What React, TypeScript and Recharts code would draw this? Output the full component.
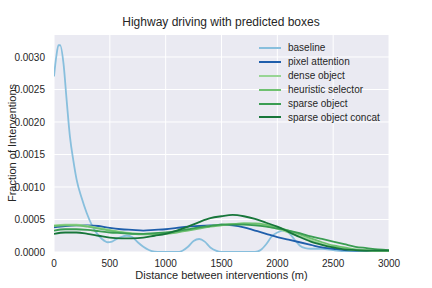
import React from "react";
import { LineChart, Line, XAxis, YAxis, CartesianGrid } from "recharts";

const xTicks = [0, 500, 1000, 1500, 2000, 2500, 3000];
const yTicks = [0, 0.0005, 0.001, 0.0015, 0.002, 0.0025, 0.003];

const seriesNames = [
  "baseline",
  "pixel attention",
  "dense object",
  "heuristic selector",
  "sparse object",
  "sparse object concat",
];
const seriesColors = ["#88bfdd", "#1f5eab", "#98d594", "#6fc170", "#3a9d52", "#17763a"];

const baselineX = [0, 20, 40, 55, 85, 113, 143, 173, 203, 248, 293, 337, 382, 430, 480, 520, 560, 600, 650, 700, 750, 800, 850, 900, 950, 1000, 1100, 1150, 1200, 1250, 1300, 1350, 1400, 1450, 1500, 1800, 1850, 1900, 1950, 2000, 2050, 2100, 2150, 2200, 2250, 2300, 2400, 2500, 2600, 2700, 3000];
const baselineY = [0.0027, 0.003, 0.00318, 0.00318, 0.0029, 0.00234, 0.00177, 0.00141, 0.00111, 0.00083, 0.0006, 0.00042, 0.00029, 0.0002, 0.00015, 0.00016, 0.0002, 0.00023, 0.00025, 0.00023, 0.00015, 0.00008, 0.00003, 0.000005, 0, 0, 0, 0.00002, 0.00008, 0.00017, 0.0002, 0.00016, 0.00007, 0.00002, 0, 0, 0.00003, 0.00012, 0.00024, 0.0003, 0.00033, 0.0003, 0.0002, 0.0001, 0.00006, 0.00005, 0.00005, 0.00003, 0.00001, 0, 0];

const gridX = [0, 100, 200, 300, 400, 500, 600, 700, 800, 900, 1000, 1100, 1200, 1300, 1400, 1500, 1600, 1700, 1800, 1900, 2000, 2100, 2200, 2300, 2400, 2500, 2600, 2700, 2800, 2900, 3000];
const pixelAttention = [0.00038, 0.0004, 0.00041, 0.00041, 0.0004, 0.00037, 0.00035, 0.00034, 0.00033, 0.00034, 0.00035, 0.00037, 0.00039, 0.0004, 0.00041, 0.00042, 0.00041, 0.00038, 0.00033, 0.00028, 0.00023, 0.00019, 0.00015, 0.00011, 0.00007, 0.00005, 0.00003, 0.00002, 0.000015, 0.00001, 0.00001];
const denseObject = [0.00041, 0.00042, 0.00042, 0.0004, 0.00037, 0.00034, 0.00031, 0.00029, 0.00028, 0.00028, 0.00029, 0.00031, 0.00034, 0.00037, 0.0004, 0.00042, 0.00043, 0.00044, 0.00043, 0.0004, 0.00036, 0.0003, 0.00024, 0.00018, 0.00012, 0.00008, 0.00005, 0.00003, 0.00002, 0.00001, 0.00001];
const heuristicSelector = [0.0004, 0.00041, 0.00041, 0.00039, 0.00036, 0.00033, 0.0003, 0.00028, 0.00027, 0.00027, 0.00028, 0.0003, 0.00033, 0.00036, 0.00039, 0.00041, 0.00043, 0.00044, 0.00044, 0.00042, 0.00038, 0.00033, 0.00027, 0.00021, 0.00015, 0.0001, 0.00007, 0.00004, 0.00003, 0.00002, 0.00002];
const sparseObject = [0.00033, 0.00035, 0.00035, 0.00034, 0.00032, 0.0003, 0.00029, 0.00028, 0.00028, 0.00029, 0.0003, 0.00032, 0.00035, 0.00038, 0.0004, 0.00042, 0.00042, 0.00042, 0.00041, 0.00039, 0.00036, 0.00033, 0.00029, 0.00024, 0.0002, 0.00016, 0.00012, 0.00008, 0.00006, 0.00004, 0.00003];
const sparseObjectConcat = [0.00028, 0.0003, 0.0003, 0.00028, 0.00025, 0.00022, 0.00021, 0.00021, 0.00022, 0.00025, 0.00028, 0.00033, 0.00039, 0.00046, 0.00052, 0.00055, 0.00057, 0.00055, 0.00051, 0.00045, 0.00039, 0.00031, 0.00023, 0.00016, 0.00011, 0.00007, 0.00004, 0.00003, 0.00002, 0.00002, 0.00002];

const toPoints = (xs: number[], ys: number[]) => xs.map((x, i) => ({ x, y: ys[i] }));

const seriesData = [
  toPoints(baselineX, baselineY),
  toPoints(gridX, pixelAttention),
  toPoints(gridX, denseObject),
  toPoints(gridX, heuristicSelector),
  toPoints(gridX, sparseObject),
  toPoints(gridX, sparseObjectConcat),
];

const FONT = "'Liberation Sans', Arial, sans-serif";
const TEXT = "#262626";

export default function App() {
  return (
    <div style={{ position: "absolute", left: 0, top: 0, width: 432, height: 288, background: "#fff", fontFamily: FONT }}>
      <LineChart width={432} height={288} margin={{ top: 35, right: 43, bottom: 0, left: 0 }}>
        <CartesianGrid fill="#eaeaf2" stroke="#ffffff" strokeWidth={1} verticalValues={xTicks} horizontalValues={yTicks} />
        <XAxis
          type="number"
          dataKey="x"
          domain={[0, 3000]}
          ticks={xTicks}
          allowDataOverflow
          axisLine={false}
          tickLine={false}
          height={36}
          tick={{ fill: TEXT, fontSize: 10, fontFamily: FONT }}
          tickMargin={2}
        />
        <YAxis
          type="number"
          dataKey="y"
          domain={[0, 0.003338]}
          ticks={yTicks}
          allowDataOverflow
          axisLine={false}
          tickLine={false}
          width={54}
          tick={{ fill: TEXT, fontSize: 10, fontFamily: FONT }}
          tickFormatter={(v: number) => v.toFixed(4)}
          tickMargin={3}
        />
        {seriesData.map((d, i) => (
          <Line
            key={seriesNames[i]}
            data={d}
            dataKey="y"
            type="monotone"
            stroke={seriesColors[i]}
            strokeWidth={1.8}
            dot={false}
            isAnimationActive={false}
          />
        ))}
      </LineChart>
      <div style={{ position: "absolute", left: 0, width: 442, top: 15, textAlign: "center", fontSize: 12, color: TEXT }}>
        Highway driving with predicted boxes
      </div>
      <div style={{ position: "absolute", left: 54, width: 335, top: 269, lineHeight: "13px", textAlign: "center", fontSize: 11, color: TEXT }}>
        Distance between interventions (m)
      </div>
      <div
        style={{
          position: "absolute",
          left: 6,
          top: 143,
          width: 0,
          height: 0,
        }}
      >
        <div style={{ position: "absolute", transform: "translate(-50%, -50%) rotate(-90deg)", whiteSpace: "nowrap", fontSize: 11, color: TEXT, left: 6, top: 0 }}>
          Fraction of Interventions
        </div>
      </div>
      <div style={{ position: "absolute", left: 259, top: 41 }}>
        {seriesNames.map((n, i) => (
          <div key={n} style={{ display: "flex", alignItems: "center", height: 13.9, fontSize: 10, color: TEXT }}>
            <div style={{ width: 22, height: 2, background: seriesColors[i], marginRight: 7 }} />
            <span>{n}</span>
          </div>
        ))}
      </div>
    </div>
  );
}
